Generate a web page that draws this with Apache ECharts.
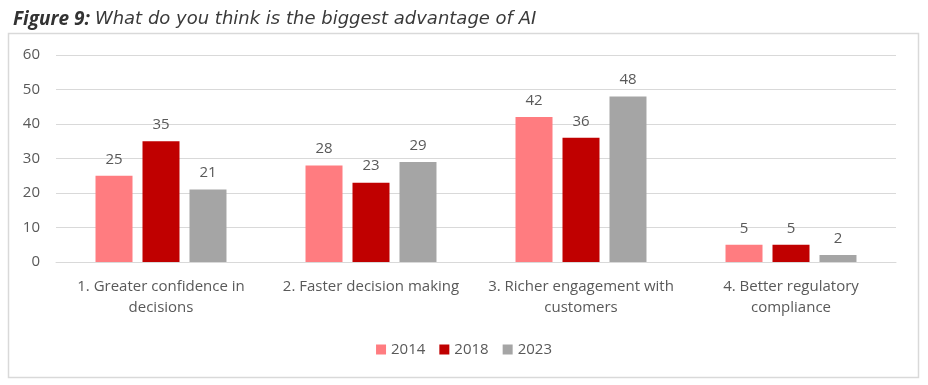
<!DOCTYPE html>
<html><head><meta charset="utf-8">
<script src="https://cdn.jsdelivr.net/npm/echarts@6/dist/echarts.min.js"></script>
<style>html,body{margin:0;padding:0;background:#fff}#c{width:928px;height:385px}</style>
</head><body><div id="c"></div>
<script>
const categories = ['1. Greater confidence in\ndecisions', '2. Faster decision making', '3. Richer engagement with\ncustomers', '4. Better regulatory\ncompliance'];
const s2014 = [25, 28, 42, 5];
const s2018 = [35, 23, 36, 5];
const s2023 = [21, 29, 48, 2];
const yTicks = [0, 10, 20, 30, 40, 50, 60];
const FONT = '"Open Sans", sans-serif';
const TXT = '#595959';
const chart = echarts.init(document.getElementById('c'), null, {renderer: 'canvas'});
function ser(name, data, color) {
  return {name, type: 'bar', data, barWidth: 37, barGap: '27%',
    itemStyle: {color},
    label: {show: true, position: 'top', distance: 9, color: TXT, fontFamily: FONT, fontSize: 15}};
}
chart.setOption({
  animation: false,
  title: {text: '{b|Figure 9:} {i|What do you think is the biggest advantage of AI}', left: 8, top: 5,
    textStyle: {fontWeight: 'normal', rich: {
      b: {fontFamily: FONT, fontSize: 19, fontWeight: 'bold', fontStyle: 'italic', color: '#333'},
      i: {fontFamily: '"DejaVu Sans", sans-serif', fontSize: 18, fontWeight: 'normal', fontStyle: 'italic', color: '#3a3a3a'}}}},
  graphic: [{type: 'rect', shape: {x: 8.5, y: 33.5, width: 910, height: 344}, style: {fill: 'none', stroke: '#d9d9d9', lineWidth: 1.5}, silent: true}],
  legend: {bottom: 23, left: 'center', itemWidth: 10, itemHeight: 10, itemGap: 14, icon: 'rect',
    textStyle: {color: TXT, fontFamily: FONT, fontSize: 15}},
  grid: {left: 56, right: 32, top: 55, bottom: 123, containLabel: false},
  xAxis: {type: 'category', data: categories,
    axisLine: {lineStyle: {color: '#d9d9d9', width: 1}}, axisTick: {show: false},
    axisLabel: {color: TXT, fontFamily: FONT, fontSize: 15, margin: 14, lineHeight: 21, interval: 0}},
  yAxis: {type: 'value', min: yTicks[0], max: yTicks[yTicks.length - 1], interval: 10,
    axisLine: {show: false}, axisTick: {show: false},
    splitLine: {lineStyle: {color: '#d9d9d9', width: 1}},
    axisLabel: {color: TXT, fontFamily: FONT, fontSize: 15, margin: 16}},
  series: [ser('2014', s2014, '#FF7C80'), ser('2018', s2018, '#C00000'), ser('2023', s2023, '#A5A5A5')]
});
</script></body></html>
